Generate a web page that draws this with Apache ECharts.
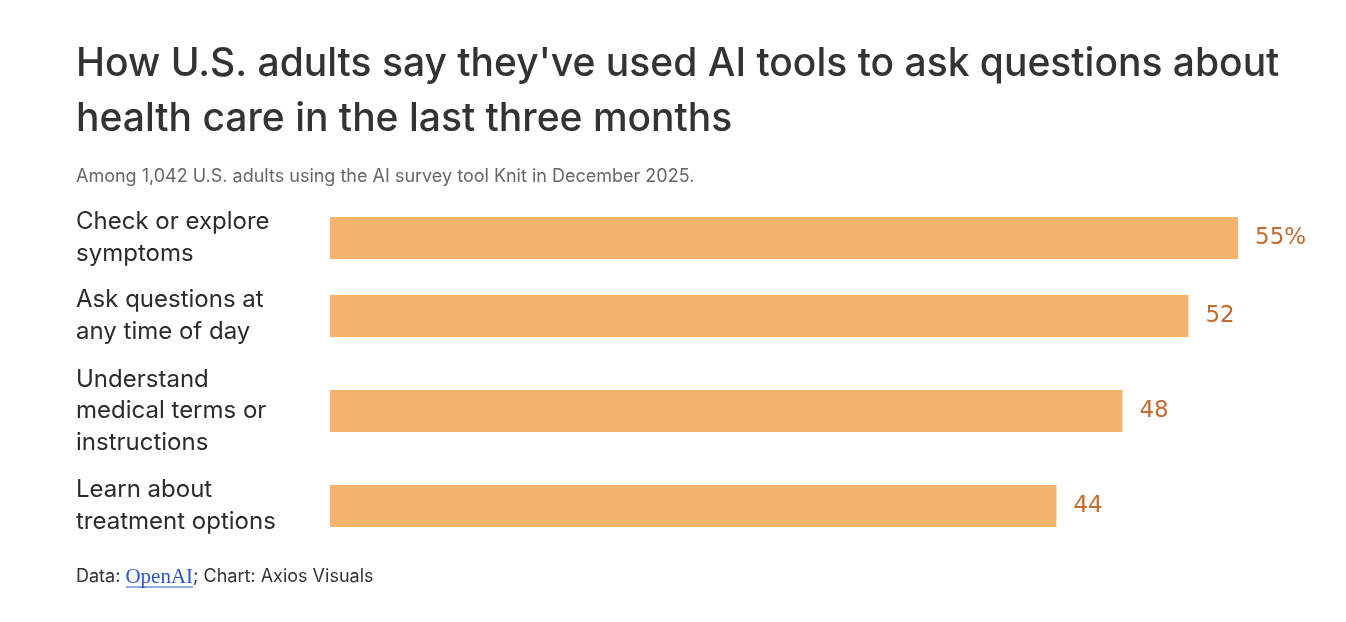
<!DOCTYPE html>
<html><head><meta charset="utf-8">
<script src="https://cdn.jsdelivr.net/npm/echarts@6/dist/echarts.min.js"></script>
<style>html,body{margin:0;background:#fff}#c{width:1346px;height:622px}</style>
</head><body><div id="c"></div>
<script>
const categories = ['Check or explore symptoms', 'Ask questions at any time of day', 'Understand medical terms or instructions', 'Learn about treatment options'];
const tickLabels = ['Check or explore\nsymptoms', 'Ask questions at\nany time of day', 'Understand\nmedical terms or\ninstructions', 'Learn about\ntreatment options'];
const values = [55, 52, 48, 44];
const labelSuffix = ['%', '', '', ''];
const titleText = "How U.S. adults say they've used AI tools to ask questions about\nhealth care in the last three months";
const subtitleText = 'Among 1,042 U.S. adults using the AI survey tool Knit in December 2025.';
const rowCenters = [238, 316, 411, 506];

const chart = echarts.init(document.getElementById('c'));
const grids = [], xAxes = [], yAxes = [], series = [];
categories.forEach((cat, i) => {
  grids.push({left: 330, right: 108, top: rowCenters[i] - 21, height: 42});
  xAxes.push({type: 'value', gridIndex: i, min: 0, max: 55, show: false});
  yAxes.push({type: 'category', gridIndex: i, data: [cat],
    axisLine: {show: false}, axisTick: {show: false}, splitLine: {show: false},
    axisLabel: {margin: 254, align: 'left', formatter: () => tickLabels[i], padding: [4, 0, 0, 0],
      fontSize: 24, lineHeight: 31.5, color: '#2b2b2b', fontFamily: 'Inter'}});
  series.push({type: 'bar', xAxisIndex: i, yAxisIndex: i, data: [values[i]], barWidth: 42,
    itemStyle: {color: '#f3b36c'}, silent: true,
    label: {show: true, position: 'right', distance: 17, fontSize: 23, color: '#c46b2e',
      fontFamily: 'DejaVu Sans', formatter: p => p.value + labelSuffix[i]}});
});
chart.setOption({
  animation: false,
  title: [
    {text: titleText, left: 76, top: 37, padding: 0, textStyle: {fontSize: 39, lineHeight: 55, fontWeight: 500, color: '#333', fontFamily: 'Inter'}},
    {text: subtitleText, left: 76, top: 166, padding: 0, textStyle: {fontSize: 18, lineHeight: 22, fontWeight: 'normal', color: '#666', fontFamily: 'Inter'}},
    {text: '{a|Data: }{l|OpenAI}{a|; Chart: Axios Visuals}', left: 76, top: 566, padding: 0,
      textStyle: {fontWeight: 'normal', rich: {a: {fontSize: 18, fontWeight: 'normal', color: '#333', fontFamily: 'Inter', lineHeight: 22},
        l: {fontSize: 21, fontWeight: 'normal', color: '#2a56c6', fontFamily: 'Liberation Serif', lineHeight: 22}}}}
  ],
  graphic: [{type: 'line', shape: {x1: 126, y1: 587, x2: 193, y2: 587}, style: {stroke: '#2a56c6', lineWidth: 1}}],
  grid: grids, xAxis: xAxes, yAxis: yAxes, series: series
});
</script></body></html>
